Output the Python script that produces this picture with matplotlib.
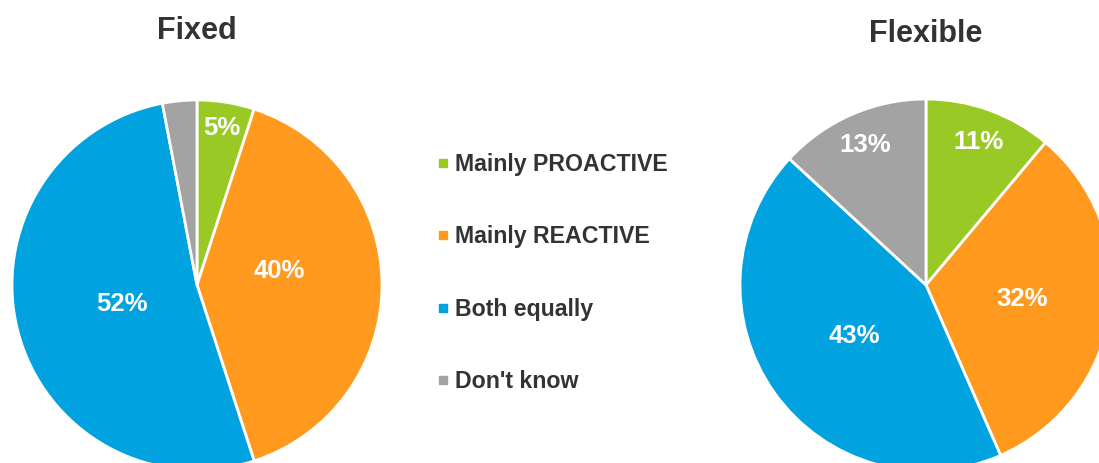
import matplotlib
matplotlib.use("Agg")
import matplotlib.pyplot as plt
from matplotlib.lines import Line2D
import numpy as np

plt.rcParams['font.family'] = ['Liberation Sans', 'DejaVu Sans']

categories = ["Mainly PROACTIVE", "Mainly REACTIVE", "Both equally", "Don't know"]
colors = ["#99C925", "#FF9A1E", "#00A2DF", "#A3A3A3"]
fixed_values = [5, 40, 52, 3]
flexible_values = [11, 32, 43, 13]
fixed_labels = ["5%", "40%", "52%", ""]
flexible_labels = ["11%", "32%", "43%", "13%"]
# label placement: radial fraction and angular nudge (degrees)
fixed_label_r = [0.86, 0.45, 0.42, 0.5]
fixed_label_da = [0, 10, 0, 0]
flexible_label_r = [0.82, 0.52, 0.47, 0.82]
flexible_label_da = [0, 0, 0, 0]

W, H = 1099, 463
fig = plt.figure(figsize=(W / 100, H / 100), dpi=100)
text_color = "#333333"


def draw_pie(cx, cy, r, values, labels, label_r, label_da, title, title_y):
    ax = fig.add_axes([(cx - r) / W, (H - cy - r) / H, 2 * r / W, 2 * r / H])
    wedges, _ = ax.pie(values, colors=colors, startangle=90, counterclock=False,
                       radius=1.0, wedgeprops=dict(edgecolor="white", linewidth=2))
    for w, lab, lr, da in zip(wedges, labels, label_r, label_da):
        if not lab:
            continue
        ang = np.deg2rad((w.theta1 + w.theta2) / 2 + da)
        ax.text(lr * np.cos(ang), lr * np.sin(ang), lab, ha="center", va="center",
                color="white", fontsize=18.5, fontweight="bold")
    ax.set_xlim(-1, 1)
    ax.set_ylim(-1, 1)
    ax.set_aspect("equal")
    for w in wedges:
        w.set_clip_on(False)
    ax.axis("off")
    fig.text(cx / W, 1 - title_y / H, title, ha="center", va="center",
             fontsize=22, fontweight="bold", color=text_color)
    return wedges


draw_pie(197, 285, 185, fixed_values, fixed_labels, fixed_label_r, fixed_label_da, "Fixed", 31)
draw_pie(926, 285, 186, flexible_values, flexible_labels, flexible_label_r, flexible_label_da, "Flexible", 34)

handles = [Line2D([0], [0], marker="s", linestyle="none", markersize=6,
                  markerfacecolor=c, markeredgecolor=c) for c in colors]
leg = fig.legend(handles, categories, loc="upper left",
                 bbox_to_anchor=(436 / W, 1 - 153 / H), frameon=False,
                 prop=dict(size=16.7, weight="bold"), labelcolor=text_color,
                 handlelength=0.6, handletextpad=0.23, labelspacing=2.13,
                 borderaxespad=0, borderpad=0)

fig.savefig("out.png", dpi=100)
